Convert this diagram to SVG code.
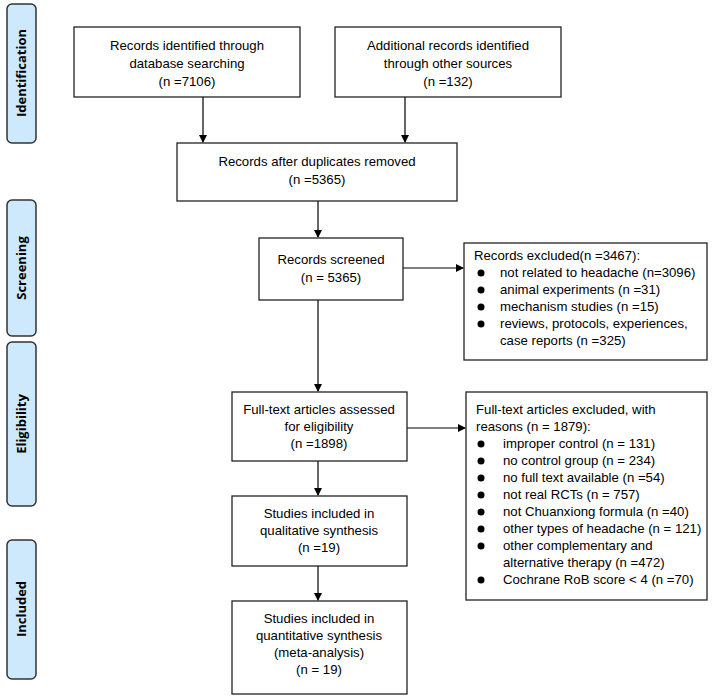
<svg xmlns="http://www.w3.org/2000/svg" width="714" height="699" viewBox="0 0 714 699">
<style>
.ph{fill:#cde9fb;stroke:#333;stroke-width:1.5}
.pt{font-family:"Open Sans","Liberation Sans",sans-serif;font-weight:bold;font-size:13px;fill:#000;text-anchor:middle}
.b{fill:#fff;stroke:#222;stroke-width:1.3}
.t{font-family:"Liberation Sans",Arial,sans-serif;font-size:13.2px;fill:#000}
.c{text-anchor:middle}
.l{stroke:#000;stroke-width:1.2;fill:none;marker-end:url(#a)}
</style>
<defs><marker id="a" markerWidth="8" markerHeight="8" refX="7" refY="4" orient="auto" markerUnits="userSpaceOnUse"><path d="M0,0L8,4L0,8z" fill="#000"/></marker></defs>
<rect width="714" height="699" fill="#fff"/>
<g id="phase-identification"><rect class="ph" x="7" y="4" width="29" height="139" rx="5"/><text class="pt" transform="translate(26,73) rotate(-90)">Identification</text></g>
<g id="phase-screening"><rect class="ph" x="7" y="200" width="29" height="136" rx="5"/><text class="pt" transform="translate(26,268) rotate(-90)">Screening</text></g>
<g id="phase-eligibility"><rect class="ph" x="7" y="342" width="29" height="164" rx="5"/><text class="pt" transform="translate(26,424) rotate(-90)">Eligibility</text></g>
<g id="phase-included"><rect class="ph" x="7" y="540" width="29" height="139" rx="5"/><text class="pt" transform="translate(26,609) rotate(-90)">Included</text></g>
<g id="connectors">
<path class="l" d="M203,97V142"/>
<path class="l" d="M405,97V142"/>
<path class="l" d="M318,201V237"/>
<path class="l" d="M403,268H463"/>
<path class="l" d="M318,300V391"/>
<path class="l" d="M407,428H465"/>
<path class="l" d="M318,461V495"/>
<path class="l" d="M318,566V600"/>
</g>
<g id="n1"><rect class="b" x="74" y="27" width="226" height="70"/><text class="t c" x="187" y="50">Records identified through</text><text class="t c" x="187" y="68">database searching</text><text class="t c" x="187" y="86">(n =7106)</text></g>
<g id="n2"><rect class="b" x="335" y="27" width="226" height="70"/><text class="t c" x="448" y="50">Additional records identified</text><text class="t c" x="448" y="68">through other sources</text><text class="t c" x="448" y="86">(n =132)</text></g>
<g id="n3"><rect class="b" x="177" y="143" width="280" height="58"/><text class="t c" x="317" y="166">Records after duplicates removed</text><text class="t c" x="317" y="184">(n =5365)</text></g>
<g id="n4"><rect class="b" x="259" y="238" width="144" height="62"/><text class="t c" x="331" y="264">Records screened</text><text class="t c" x="331" y="282">(n = 5365)</text></g>
<g id="n5"><rect class="b" x="464" y="243" width="243" height="117"/>
<text class="t" x="474" y="260">Records excluded(n =3467):</text>
<g><circle cx="481" cy="273" r="3.5"/><circle cx="481" cy="290" r="3.5"/><circle cx="481" cy="307" r="3.5"/><circle cx="481" cy="324" r="3.5"/></g>
<text class="t" x="500" y="277">not related to headache (n=3096)</text>
<text class="t" x="500" y="294">animal experiments (n =31)</text>
<text class="t" x="500" y="311"> mechanism studies (n =15)</text>
<text class="t" x="500" y="328">reviews, protocols, experiences,</text>
<text class="t" x="500" y="345">case reports  (n =325)</text></g>
<g id="n6"><rect class="b" x="232" y="392" width="175" height="69"/><text class="t c" x="319" y="414">Full-text articles assessed</text><text class="t c" x="319" y="431">for eligibility</text><text class="t c" x="319" y="448">(n =1898)</text></g>
<g id="n7"><rect class="b" x="466" y="392" width="241" height="208"/>
<text class="t" x="476" y="414">Full-text articles excluded, with</text>
<text class="t" x="476" y="431">reasons (n = 1879):</text>
<g><circle cx="481" cy="444" r="3.5"/><circle cx="481" cy="461" r="3.5"/><circle cx="481" cy="478" r="3.5"/><circle cx="481" cy="495" r="3.5"/><circle cx="481" cy="512" r="3.5"/><circle cx="481" cy="529" r="3.5"/><circle cx="481" cy="546" r="3.5"/><circle cx="481" cy="580" r="3.5"/></g>
<text class="t" x="503" y="448">improper control (n = 131)</text>
<text class="t" x="503" y="465">no control group (n = 234)</text>
<text class="t" x="503" y="482">no full text available (n =54)</text>
<text class="t" x="503" y="499">not real RCTs (n = 757)</text>
<text class="t" x="503" y="516">not Chuanxiong formula (n =40)</text>
<text class="t" x="503" y="533">other types of headache (n = 121)</text>
<text class="t" x="503" y="550">other complementary and</text>
<text class="t" x="503" y="567">alternative therapy  (n =472)</text>
<text class="t" x="503" y="584">Cochrane RoB score &lt; 4 (n =70)</text></g>
<g id="n8"><rect class="b" x="232" y="496" width="175" height="70"/><text class="t c" x="319" y="518">Studies included in</text><text class="t c" x="319" y="535">qualitative synthesis</text><text class="t c" x="319" y="552">(n =19)</text></g>
<g id="n9"><rect class="b" x="232" y="601" width="175" height="93"/><text class="t c" x="319" y="623">Studies included in</text><text class="t c" x="319" y="640">quantitative synthesis</text><text class="t c" x="319" y="657">(meta-analysis)</text><text class="t c" x="319" y="674">(n = 19)</text></g>
</svg>
